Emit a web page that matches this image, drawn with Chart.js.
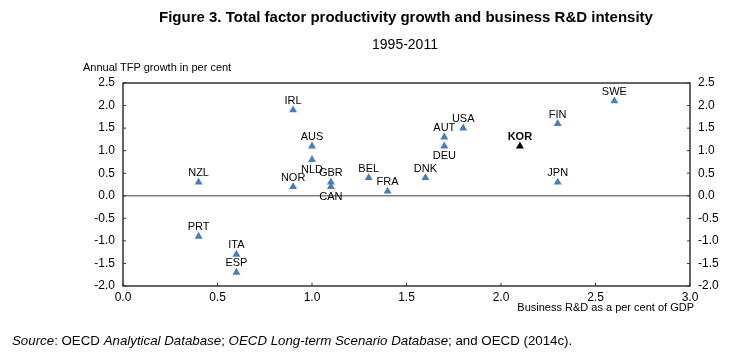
<!DOCTYPE html>
<html>
<head>
<meta charset="utf-8">
<script src="https://cdn.jsdelivr.net/npm/chart.js@4.4.1/dist/chart.umd.min.js"></script>
<style>
  html,body{margin:0;padding:0;background:#fff;}
  #wrap{position:relative;width:740px;height:361px;overflow:hidden;}
  #c{position:absolute;left:0;top:0;}
  .t{position:absolute;white-space:nowrap;color:#000;}
  .narrow{font-family:"Liberation Sans Narrow","Arial Narrow","Liberation Sans",Arial,sans-serif;}
  .reg{font-family:"Liberation Sans",Arial,sans-serif;}
</style>
</head>
<body>
<div id="wrap">
  <canvas id="c" width="740" height="361"></canvas>
  <div class="t narrow" id="title" style="left:0;width:812px;text-align:center;top:8px;font-size:15px;font-weight:bold;">Figure 3. Total factor productivity growth and business R&amp;D intensity</div>
  <div class="t narrow" style="left:0;width:810px;text-align:center;top:36px;font-size:14px;">1995-2011</div>
  <div class="t reg" style="left:83px;top:61px;font-size:11px;">Annual TFP growth in per cent</div>
  <div class="t reg" style="right:46px;top:301px;font-size:11px;">Business R&amp;D as a per cent of GDP</div>
  <div class="t narrow" style="left:12px;top:333px;font-size:13.3px;"><i>Source</i>: OECD <i>Analytical Database</i>; <i>OECD Long-term Scenario Database</i>; and OECD (2014c).</div>
</div>
<script>
// ---- data ----
const countries = ["NZL","IRL","AUS","NLD","NOR","GBR","CAN","BEL","FRA","DNK","AUT","DEU","USA","KOR","FIN","JPN","SWE","PRT","ITA","ESP"];
const rdIntensity = [0.4, 0.9, 1.0, 1.0, 0.9, 1.1, 1.1, 1.3, 1.4, 1.6, 1.7, 1.7, 1.8, 2.1, 2.3, 2.3, 2.6, 0.4, 0.6, 0.6];
const tfpGrowth   = [0.3, 1.9, 1.1, 0.8, 0.2, 0.3, 0.2, 0.4, 0.1, 0.4, 1.3, 1.1, 1.5, 1.1, 1.6, 0.3, 2.1, -0.9, -1.3, -1.7];
const labelSide   = ["above","above","above","below","above","above","below","above","above","above","above","below","above","above","above","above","above","above","above","above"];
const highlight   = "KOR";
const xTicks = [0.0, 0.5, 1.0, 1.5, 2.0, 2.5, 3.0];
const yTicks = [2.5, 2.0, 1.5, 1.0, 0.5, 0.0, -0.5, -1.0, -1.5, -2.0];

const BLUE = "#4A7EBB";
const pts = countries.map((c,i)=>({x: rdIntensity[i], y: tfpGrowth[i]}));
const colors = countries.map(c => c===highlight ? "#000000" : BLUE);

const frame = {
  id: "frame",
  afterDatasetsDraw(chart){
    const {ctx, chartArea:a, scales} = chart;
    ctx.save();
    // zero line
    const y0 = scales.y.getPixelForValue(0);
    ctx.strokeStyle = "#808080"; ctx.lineWidth = 1.5;
    ctx.beginPath(); ctx.moveTo(a.left, y0); ctx.lineTo(a.right, y0); ctx.stroke();
    // box
    ctx.strokeStyle = "#000"; ctx.lineWidth = 1.2;
    ctx.strokeRect(a.left, a.top, a.right-a.left, a.bottom-a.top);
    // inward ticks
    ctx.lineWidth = 1; ctx.strokeStyle = "#333";
    ctx.beginPath();
    yTicks.forEach(v=>{
      const p = scales.y.getPixelForValue(v);
      ctx.moveTo(a.left, p); ctx.lineTo(a.left+3, p);
      ctx.moveTo(a.right, p); ctx.lineTo(a.right-3, p);
    });
    xTicks.forEach(v=>{
      const p = scales.x.getPixelForValue(v);
      ctx.moveTo(p, a.bottom); ctx.lineTo(p, a.bottom-3);
    });
    ctx.stroke();
    // point labels
    const meta = chart.getDatasetMeta(0);
    ctx.textAlign = "center"; ctx.textBaseline = "middle";
    meta.data.forEach((el,i)=>{
      const c = countries[i];
      ctx.font = (c===highlight ? "bold " : "") + "11px 'Liberation Sans', Arial, sans-serif";
      ctx.fillStyle = "#000";
      const dy = labelSide[i]==="above" ? -9 : 10;
      ctx.fillText(c, el.x, el.y + dy);
    });
    ctx.restore();
  }
};

const tickFont = {family:"'Liberation Sans', Arial, sans-serif", size:12};
new Chart(document.getElementById("c"), {
  type: "scatter",
  data: { datasets: [{
    data: pts,
    pointStyle: "triangle",
    pointRadius: 4.6,
    pointHoverRadius: 4.6,
    backgroundColor: colors,
    borderColor: colors,
    borderWidth: 0
  }]},
  options: {
    responsive: false,
    animation: false,
    events: [],
    layout: { padding: { top: 83, bottom: 55, left: 0, right: 0 } },
    plugins: { legend:{display:false}, tooltip:{enabled:false}, title:{display:false} },
    scales: {
      x: {
        type: "linear", min: 0, max: 3,
        afterBuildTicks(s){ s.ticks = xTicks.map(v=>({value:v})); },
        afterFit(s){ s.height = 20; },
        grid: { display:false, drawTicks:false },
        border: { display:false },
        ticks: { font: tickFont, color:"#000", padding: 4, maxRotation:0, callback:v=>Number(v).toFixed(1) }
      },
      y: {
        type: "linear", position: "left", min: -2, max: 2.5,
        afterBuildTicks(s){ s.ticks = yTicks.map(v=>({value:v})); },
        afterFit(s){ s.width = 123; },
        grid: { display:false, drawTicks:false },
        border: { display:false },
        ticks: { font: tickFont, color:"#000", padding: 8, callback:v=>Number(v).toFixed(1) }
      },
      y2: {
        type: "linear", position: "right", min: -2, max: 2.5,
        afterBuildTicks(s){ s.ticks = yTicks.map(v=>({value:v})); },
        afterFit(s){ s.width = 50; },
        grid: { display:false, drawTicks:false },
        border: { display:false },
        ticks: { font: tickFont, color:"#000", padding: 8, callback:v=>Number(v).toFixed(1) }
      }
    }
  },
  plugins: [frame]
});
</script>
</body>
</html>
